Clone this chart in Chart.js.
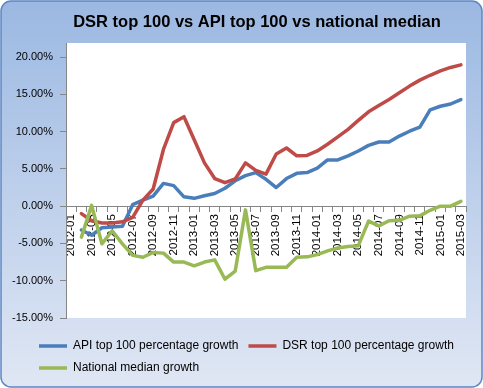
<!DOCTYPE html>
<html>
<head>
<meta charset="utf-8">
<script src="https://cdn.jsdelivr.net/npm/chart.js@4.4.0/dist/chart.umd.min.js"></script>
<style>
  html, body { margin: 0; padding: 0; background: #fff; }
  #chart { display: block; }
</style>
</head>
<body>
<canvas id="chart" width="483" height="388"></canvas>
<script>
// Categorías: meses 2012-01 .. 2015-03
const months = [
    '2012-01', '2012-02', '2012-03', '2012-04', '2012-05', '2012-06', '2012-07', '2012-08',
    '2012-09', '2012-10', '2012-11', '2012-12', '2013-01', '2013-02', '2013-03', '2013-04',
    '2013-05', '2013-06', '2013-07', '2013-08', '2013-09', '2013-10', '2013-11', '2013-12',
    '2014-01', '2014-02', '2014-03', '2014-04', '2014-05', '2014-06', '2014-07', '2014-08',
    '2014-09', '2014-10', '2014-11', '2014-12', '2015-01', '2015-02', '2015-03'
];

// Marcas del eje Y (%)
const yTicks = [-15, -10, -5, 0, 5, 10, 15, 20];

// Series (% crecimiento)
const apiGrowth = [
    null, -3.2, -3.9, -2.9, -2.8, -2.7, 0.2, 0.8, 1.35, 3.05, 2.75, 1.25, 1.05, 1.4, 1.7, 2.4,
    3.4, 4.1, 4.5, 3.6, 2.5, 3.7, 4.4, 4.5, 5.1, 6.2, 6.2, 6.75, 7.4, 8.15, 8.6, 8.6,
    9.4, 10.05, 10.6, 12.9, 13.4, 13.7, 14.3
];
const dsrGrowth = [
    null, -1.0, -1.95, -2.25, -2.25, -2.1, -1.5, 0.8, 2.3, 7.6, 11.2, 12.0, 8.9, 5.8, 3.7, 3.15,
    3.65, 5.8, 4.8, 4.3, 7.0, 7.8, 6.75, 6.8, 7.4, 8.3, 9.3, 10.3, 11.5, 12.65, 13.5, 14.3,
    15.2, 16.1, 16.9, 17.55, 18.15, 18.6, 18.95
];
const nationalGrowth = [
    null, -4.15, 0.1, -5.05, -3.3, -5.05, -6.6, -6.85, -6.2, -6.3, -7.5, -7.5, -8.0, -7.5, -7.2, -9.8,
    -8.7, -0.5, -8.65, -8.2, -8.2, -8.2, -6.85, -6.8, -6.5, -6.0, -5.6, -5.4, -5.3, -2.0, -2.65, -1.95,
    -1.9, -1.35, -1.3, -0.55, 0.0, 0.0, 0.65
];

const FONT = "'Liberation Sans', Arial, sans-serif";
const AXIS_GREY = '#868686';

Chart.defaults.font.family = FONT;
Chart.defaults.color = '#000';

// Fondo degradado, área de trazado blanca y título
const framePlugin = {
    id: 'frame',
    afterLayout(chart) {
        // la leyenda empieza alineada bajo las etiquetas del eje, como en Excel
        if (chart.legend) {
            chart.legend.left = 29;
            chart.legend.right = 480;
        }
    },
    beforeDraw(chart) {
        const { ctx, chartArea: a, width, height } = chart;
        ctx.save();
        const g = ctx.createLinearGradient(0, 0, 0, height);
        g.addColorStop(0, '#9bb8e2');
        g.addColorStop(1, '#e0e7f4');
        ctx.beginPath();
        ctx.roundRect(1, 1, width - 2, height - 2, 10);
        ctx.fillStyle = g;
        ctx.fill();
        ctx.lineWidth = 1.5;
        ctx.strokeStyle = '#5b87c4';
        ctx.stroke();

        ctx.fillStyle = '#fff';
        ctx.fillRect(a.left, a.top, a.right - a.left, a.bottom - a.top);

        ctx.fillStyle = '#000';
        ctx.font = 'bold 16.5px ' + FONT;
        ctx.textAlign = 'center';
        ctx.textBaseline = 'middle';
        ctx.fillText('DSR top 100 vs API top 100 vs national median', 257, 22);
        ctx.restore();
    }
};

const lineDataset = (label, data, color, order) => ({
    label: label,
    data: data,
    borderColor: color,
    backgroundColor: color,
    borderWidth: 3.5,
    pointRadius: 0,
    pointHoverRadius: 0,
    pointBorderWidth: 3.5,
    tension: 0,
    borderJoinStyle: 'round',
    borderCapStyle: 'round',
    order: order
});

new Chart(document.getElementById('chart'), {
    type: 'line',
    data: {
        labels: months,
        datasets: [
            lineDataset('API top 100 percentage growth', apiGrowth, '#4a7ebb', 3),
            lineDataset('DSR top 100 percentage growth', dsrGrowth, '#be4b48', 2),
            lineDataset('National median growth', nationalGrowth, '#98b954', 1)
        ]
    },
    options: {
        responsive: false,
        animation: false,
        devicePixelRatio: 1,
        layout: { padding: { left: 6, right: 17, top: 43, bottom: 4 } },
        plugins: {
            title: { display: false },
            tooltip: { enabled: false },
            legend: {
                position: 'bottom',
                align: 'start',
                title: { display: true, text: '', font: { size: 10, lineHeight: 1.2 }, padding: 0 },
                labels: {
                    usePointStyle: true,
                    pointStyle: 'line',
                    pointStyleWidth: 28,
                    padding: 10,
                    color: '#000',
                    font: { size: 12 },
                    sort: (a, b) => a.datasetIndex - b.datasetIndex
                }
            }
        },
        scales: {
            x: {
                type: 'category',
                position: { y: 0 },
                offset: true,
                grid: {
                    offset: true,
                    drawOnChartArea: false,
                    drawTicks: true,
                    tickLength: 5,
                    color: AXIS_GREY
                },
                border: { display: true, color: AXIS_GREY, width: 1 },
                ticks: {
                    autoSkip: false,
                    minRotation: 90,
                    maxRotation: 90,
                    padding: 3,
                    color: '#000',
                    font: { size: 11.5 },
                    callback: function(value, index) {
                        return index % 2 === 0 ? this.getLabelForValue(value) : '';
                    }
                }
            },
            y: {
                type: 'linear',
                min: -15,
                max: 21.88,
                afterBuildTicks: (scale) => {
                    scale.ticks = yTicks.map(v => ({ value: v }));
                },
                afterFit: (scale) => { scale.width = 60; },
                grid: {
                    drawOnChartArea: false,
                    drawTicks: true,
                    tickLength: 6,
                    color: AXIS_GREY
                },
                border: { display: true, color: AXIS_GREY, width: 1 },
                ticks: {
                    padding: 7,
                    color: '#000',
                    font: { size: 11 },
                    callback: (v) => v.toFixed(2) + '%'
                }
            }
        }
    },
    plugins: [framePlugin]
});
</script>
</body>
</html>
